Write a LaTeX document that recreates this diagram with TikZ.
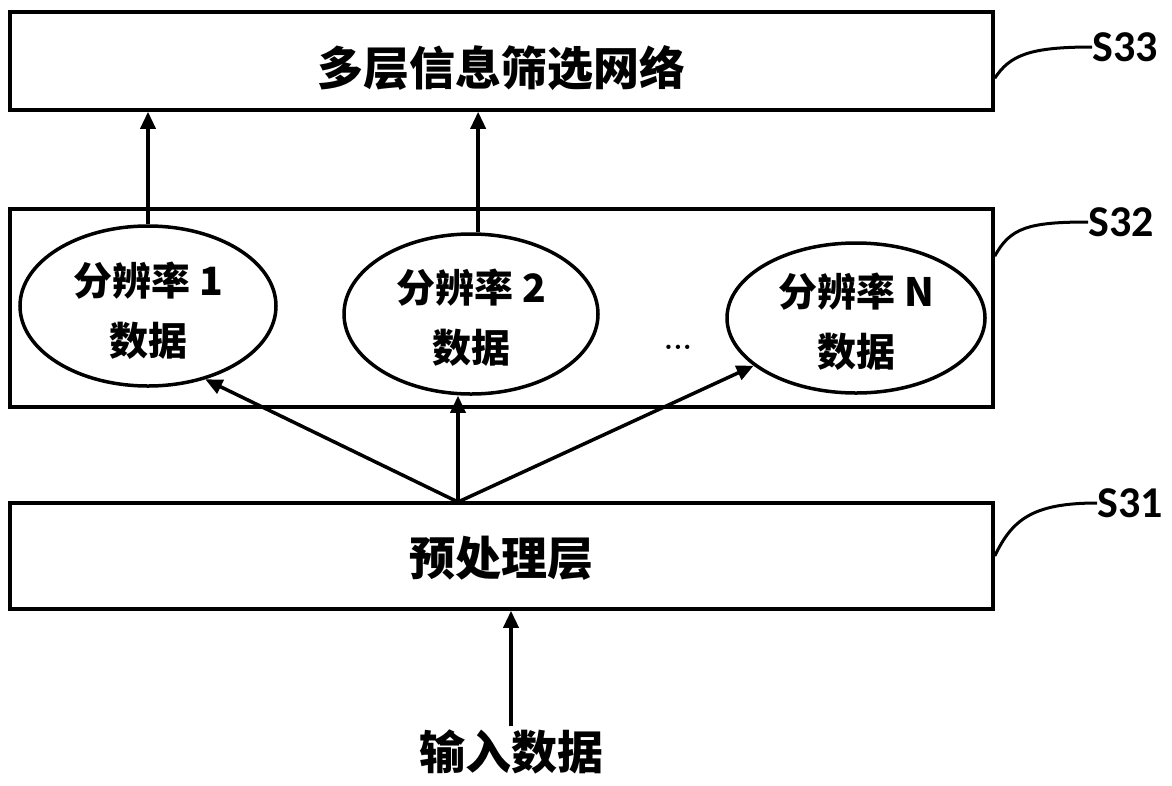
\documentclass[tikz,border=0pt]{standalone}
\usepackage{fontspec}
\newfontfamily\cjk{Noto Sans CJK SC}
\newfontfamily\lbl{Carlito}
\usetikzlibrary{arrows.meta,shapes.geometric}
\tikzset{
  layer/.style={draw,line width=3.5pt,minimum width=983pt,inner sep=0pt,font=\cjk\bfseries\fontsize{46}{50}\selectfont},
  resdata/.style={draw,ellipse,line width=3.5pt,inner sep=0pt,align=center,font=\cjk\bfseries\fontsize{39}{60}\selectfont},
  arr/.style={line width=3.5pt,-{Triangle[length=17pt,width=15pt]}},
  tag/.style={anchor=west,inner sep=0pt,font=\lbl\bfseries\fontsize{44}{44}\selectfont},
  lead/.style={line width=3pt}
}
\newcommand{\lift}[1]{\rule{0pt}{#1}}
\begin{document}
\begin{tikzpicture}[x=1pt,y=1pt,yscale=-1,xscale=1]
\useasboundingbox (0,0) rectangle (1172,785);

%Shape: Rectangle [id:net]
\node[layer,minimum height=98pt] (net) at (501.5,61) {\lift{54pt}多层信息筛选网络};
%Shape: Rectangle [id:res]
\node[layer,minimum height=198pt] (res) at (501.5,308) {};
%Shape: Rectangle [id:pre]
\node[layer,minimum height=106pt] (pre) at (501.5,556) {\lift{44pt}预处理层};

%Shape: Ellipse [id:e1]
\node[resdata,minimum width=256pt,minimum height=160pt] (e1) at (148,306) {\lift{42pt}分辨率 1\\数据};
%Shape: Ellipse [id:e2]
\node[resdata,minimum width=254pt,minimum height=160pt] (e2) at (471,314) {\lift{40pt}分辨率 2\\数据};
%Shape: Ellipse [id:e3]
\node[resdata,minimum width=258pt,minimum height=150pt] (e3) at (856,318) {\lift{40pt}分辨率 N\\数据};
% Text Node
\node[font=\bfseries\fontsize{30}{30}\selectfont] (dots) at (678,347) {...};

% Text Node
\node[font=\cjk\bfseries\fontsize{46}{50}\selectfont] (in) at (511,752) {输入数据};
\coordinate (fork) at (458,502);

%Arrows
\draw[arr] (e1.north) -- (e1.north |- net.south);
\draw[arr] (e2.85) -- (e2.85 |- net.south);
\draw[arr] (fork) -- (e1.-52);
\draw[arr] (fork) -- (fork |- e2.south);
\draw[arr] (fork) -- (e3.205);
\draw[arr] (in.north) -- (in.north |- pre.south);

% Text Node
\node[tag] (s33) at (1092,47) {S33};
\node[tag] (s32) at (1088,222) {S32};
\node[tag] (s31) at (1097,503) {S31};
%Leader lines
\draw[lead] (net.-2.3) .. controls (1010,55) and (1030,47) .. (s33.west);
\draw[lead] (res.6.7) .. controls (1010,228) and (1028,222) .. (s32.west);
\draw[lead] (pre.0.5) .. controls (1012,520) and (1032,503) .. (s31.west);
\end{tikzpicture}
\end{document}
